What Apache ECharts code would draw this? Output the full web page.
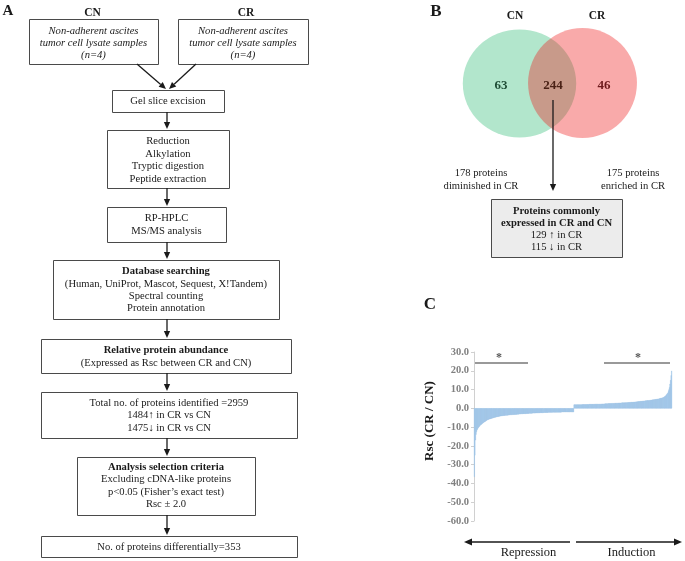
<!DOCTYPE html>
<html>
<head>
<meta charset="utf-8">
<script src="https://cdn.jsdelivr.net/npm/echarts@6/dist/echarts.min.js"></script>
<style>
html,body{margin:0;padding:0;background:#fff;}
#main{width:685px;height:561px;}
</style>
</head>
<body>
<div id="main"></div>
<script>
// ---------------- DATA ----------------
// Panel A: flowchart texts
const flowHeaders = ['CN', 'CR'];
const sampleLines = ['Non-adherent ascites', 'tumor cell lysate samples', '(n=4)'];
const stepGel = ['Gel slice excision'];
const stepDigest = ['Reduction', 'Alkylation', 'Tryptic digestion', 'Peptide extraction'];
const stepLC = ['RP-HPLC', 'MS/MS analysis'];
const stepDB = ['Database searching', '(Human, UniProt, Mascot, Sequest, X!Tandem)', 'Spectral counting', 'Protein annotation'];
const stepRel = ['Relative protein abundance', '(Expressed as Rsc between CR and CN)'];
const stepTotal = ['Total no. of proteins identified =2959', '1484\u2191 in CR vs CN', '1475\u2193 in CR vs CN'];
const stepCrit = ['Analysis selection criteria', 'Excluding cDNA-like proteins', 'p<0.05 (Fisher\u2019s exact test)', 'Rsc \u00b1 2.0'];
const stepFinal = ['No. of proteins differentially=353'];

// Panel B: Venn
const vennSets = ['CN', 'CR'];
const vennCounts = [63, 244, 46]; // CN only, both, CR only
const vennLeftNote = ['178 proteins', 'diminished in CR'];
const vennRightNote = ['175 proteins', 'enriched in CR'];
const vennBox = ['Proteins commonly', 'expressed in CR and CN', '129 \u2191 in CR', '115 \u2193 in CR'];

// Panel C: Rsc values (sorted), 178 repressed + 175 induced
const repressed = [
  -36.5, -25.0, -17.0, -14.0, -12.5, -11.6, -11.0, -10.5, -10.0, -9.7, -9.3, -9.0,
  -8.7, -8.5, -8.2, -8.0, -7.7, -7.5, -7.3, -7.1, -6.9, -6.7, -6.5, -6.3,
  -6.2, -6.0, -5.9, -5.8, -5.7, -5.6, -5.5, -5.4, -5.3, -5.2, -5.1,
  -5.0, -4.9, -4.8, -4.8, -4.7, -4.6, -4.5, -4.5, -4.4, -4.3, -4.3, -4.2, -4.2, -4.1, -4.1, -4.0, -4.0, -3.9,
  -3.9, -3.9, -3.8, -3.8, -3.8, -3.7, -3.7, -3.7, -3.6, -3.6, -3.6, -3.5, -3.5, -3.5, -3.5, -3.4, -3.4, -3.4, -3.4, -3.3, -3.3, -3.3, -3.3, -3.2, -3.2, -3.2,
  -3.2, -3.1, -3.1, -3.1, -3.1, -3.0, -3.0, -3.0, -3.0, -2.9, -2.9, -2.9, -2.9, -2.9, -2.8, -2.8, -2.8, -2.8, -2.8, -2.7, -2.7, -2.7, -2.7, -2.7, -2.7, -2.6, -2.6, -2.6,
  -2.6, -2.6, -2.6, -2.5, -2.5, -2.5, -2.5, -2.5, -2.5, -2.5, -2.4, -2.4, -2.4, -2.4, -2.4, -2.4, -2.4, -2.3, -2.3, -2.3, -2.3, -2.3, -2.3, -2.3, -2.3, -2.2, -2.2, -2.2, -2.2, -2.2, -2.2, -2.2, -2.2, -2.1, -2.1, -2.1, -2.1,
  -2.1, -2.1, -2.1, -2.1, -2.1, -2.1, -2.1, -2.1, -2.1, -2.1, -2.1, -2.1,
  -2.0, -2.0, -2.0, -2.0, -2.0, -2.0, -2.0, -2.0, -2.0, -2.0, -2.0, -2.0, -2.0, -2.0, -2.0, -2.0, -2.0, -2.0, -2.0, -2.0, -2.0, -2.0
];
const induced = [
  2.0, 2.0, 2.0, 2.0, 2.0, 2.0, 2.0, 2.0, 2.0, 2.0, 2.0, 2.0, 2.0, 2.0, 2.0,
  2.1, 2.1, 2.1, 2.1, 2.1, 2.1, 2.1, 2.1, 2.1, 2.1, 2.1, 2.1,
  2.2, 2.2, 2.2, 2.2, 2.2, 2.2, 2.2, 2.2, 2.2, 2.2,
  2.3, 2.3, 2.3, 2.3, 2.3, 2.3, 2.3, 2.3,
  2.3, 2.3, 2.3, 2.3, 2.4, 2.4, 2.4, 2.4, 2.4, 2.4, 2.5, 2.5, 2.5, 2.5, 2.5, 2.5,
  2.6, 2.6, 2.6, 2.6, 2.6, 2.6, 2.7, 2.7, 2.7, 2.7, 2.7, 2.7, 2.8, 2.8, 2.8, 2.8, 2.8, 2.8,
  2.9, 2.9, 2.9, 2.9, 2.9, 2.9, 3.0, 3.0, 3.0, 3.0, 3.0, 3.0, 3.1, 3.1, 3.1, 3.1, 3.1,
  3.2, 3.2, 3.2, 3.2, 3.2, 3.3, 3.3, 3.3, 3.3,
  3.3, 3.4, 3.4, 3.4, 3.5, 3.5, 3.5, 3.6, 3.6, 3.6, 3.7, 3.7, 3.7, 3.8, 3.8, 3.8, 3.9, 3.9, 3.9, 4.0, 4.0, 4.0, 4.1, 4.1, 4.1, 4.2, 4.2, 4.2, 4.2,
  4.3, 4.3, 4.4, 4.4, 4.5, 4.5, 4.6, 4.6, 4.7, 4.7, 4.8, 4.8, 4.9, 4.9, 5.0, 5.0, 5.1, 5.1, 5.2, 5.3, 5.4, 5.5, 5.5, 5.6,
  5.7, 5.8, 6.0, 6.2, 6.4, 6.7, 7.0, 7.4, 7.8,
  8.3, 9.0, 10.0, 11.2, 13.0, 15.0, 17.5, 20.0
];
const yMin = -60, yMax = 30, yStep = 10;
const yAxisTitle = 'Rsc (CR / CN)';
const directionLabels = ['Repression', 'Induction'];
const panelLetters = ['A', 'B', 'C'];

// ---------------- LAYOUT / DRAWING ----------------
const SERIF = '"Liberation Serif", "Times New Roman", serif';
const INK = '#1a1a1a';
const FS = 10.6;
const g = [];

function txt(x, y, s, opt) {
  opt = opt || {};
  g.push({
    type: 'text', x: x, y: y, rotation: opt.rotation || 0, z: 10,
    style: {
      text: s, fill: opt.color || INK,
      fontFamily: SERIF, fontSize: opt.size || FS,
      fontWeight: opt.bold ? 'bold' : 'normal',
      fontStyle: opt.italic ? 'italic' : 'normal',
      align: opt.align || 'center', verticalAlign: 'middle',
      textAlign: opt.align || 'center', textVerticalAlign: 'middle'
    }
  });
}
function box(x1, y1, x2, y2, fill) {
  g.push({
    type: 'rect', z: 5,
    shape: { x: x1 + 0.5, y: y1 + 0.5, width: x2 - x1, height: y2 - y1 },
    style: { fill: fill || '#fff', stroke: '#4a4a4a', lineWidth: 1 }
  });
}
function arrow(x1, y1, x2, y2, color, head) {
  head = head || 7;
  const dx = x2 - x1, dy = y2 - y1, L = Math.sqrt(dx * dx + dy * dy);
  const ux = dx / L, uy = dy / L;
  const bx = x2 - ux * head, by = y2 - uy * head;
  const w = head * 0.45;
  g.push({ type: 'line', z: 6, shape: { x1: x1, y1: y1, x2: bx, y2: by },
    style: { stroke: color || INK, lineWidth: 1.3 } });
  g.push({ type: 'polygon', z: 6,
    shape: { points: [[x2, y2], [bx - uy * w, by + ux * w], [bx + uy * w, by - ux * w]] },
    style: { fill: color || INK } });
}
function lines(cx, ys, arr, boldFirst, italic) {
  arr.forEach(function (s, i) {
    txt(cx, ys[i], s, { bold: boldFirst && i === 0, italic: italic });
  });
}

// Panel A
txt(8, 11, panelLetters[0], { size: 15, bold: true });
txt(92.5, 13, flowHeaders[0], { size: 11.5, bold: true });
txt(246, 13, flowHeaders[1], { size: 11.5, bold: true });
box(29, 19, 158, 64); lines(93.5, [31, 43, 55], sampleLines, false, true);
box(178, 19, 308, 64); lines(243, [31, 43, 55], sampleLines, false, true);
arrow(137, 64, 166, 89);
arrow(196, 64, 169, 89);
box(112, 90, 224, 112); lines(168, [101], stepGel);
arrow(167, 112, 167, 129);
box(107, 130, 229, 188); lines(168, [141, 154, 166, 179], stepDigest);
arrow(167, 188, 167, 206);
box(107, 207, 226, 242); lines(166.5, [218, 231.5], stepLC);
arrow(167, 242, 167, 259);
box(53, 260, 279, 319); lines(166, [271, 284, 296.5, 308.5], stepDB, true);
arrow(167, 319, 167, 338);
box(41, 339, 291, 373); lines(166, [350.5, 363], stepRel, true);
arrow(167, 373, 167, 391);
box(41, 392, 297, 438); lines(169, [403, 415.5, 428], stepTotal);
arrow(167, 438, 167, 456);
box(77, 457, 255, 515); lines(166, [467, 479.5, 492, 504], stepCrit, true);
arrow(167, 515, 167, 535);
box(41, 536, 297, 557); lines(169, [547], stepFinal);

// Panel B
txt(436, 12, panelLetters[1], { size: 17, bold: true });
txt(515, 16, vennSets[0], { size: 11.5, bold: true });
txt(597, 16, vennSets[1], { size: 11.5, bold: true });
g.push({ type: 'circle', z: 3, shape: { cx: 519.5, cy: 83.5, r: 54 }, scaleX: 1.05, originX: 519.5, originY: 83.5,
  style: { fill: 'rgb(178,230,204)' } });
g.push({ type: 'circle', z: 4, shape: { cx: 582.5, cy: 83, r: 55 }, scaleX: 0.99, originX: 582.5, originY: 83,
  style: { fill: 'rgb(240,24,24)', opacity: 0.37 } });
txt(501, 86, String(vennCounts[0]), { size: 13, bold: true, color: '#1f4d36' });
txt(553, 86, String(vennCounts[1]), { size: 13, bold: true, color: '#4a2216' });
txt(604, 86, String(vennCounts[2]), { size: 13, bold: true, color: '#6e1a1c' });
arrow(553, 100, 553, 191, INK, 7);
lines(481, [173, 186], vennLeftNote.map(function (s) { return s; }));
lines(633, [173, 186], vennRightNote);
box(491, 199, 622, 257, '#ececec');
vennBox.forEach(function (s, i) {
  txt(556.5, [211, 223, 235, 247][i], s, { bold: i < 2, size: 10.6 });
});

// Panel C decorations
txt(430, 305, panelLetters[2], { size: 17, bold: true });
txt(430, 421, yAxisTitle, { size: 13, bold: true, rotation: Math.PI / 2 });
g.push({ type: 'line', z: 6, shape: { x1: 475, y1: 363, x2: 528, y2: 363 }, style: { stroke: '#777', lineWidth: 1.5 } });
g.push({ type: 'line', z: 6, shape: { x1: 604, y1: 363, x2: 670, y2: 363 }, style: { stroke: '#777', lineWidth: 1.5 } });
txt(499, 358, '*', { size: 12, bold: true, color: '#555' });
txt(638, 358, '*', { size: 12, bold: true, color: '#555' });
arrow(570, 542, 464, 542, INK, 8);
arrow(576, 542, 682, 542, INK, 8);
txt(528.5, 553, directionLabels[0], { size: 12.5 });
txt(631.5, 553, directionLabels[1], { size: 12.5 });

// ---------------- CHART ----------------
const values = repressed.concat(induced);
const cats = values.map(function (_, i) { return String(i + 1); });

const chart = echarts.init(document.getElementById('main'), null, { renderer: 'canvas' });
chart.setOption({
  animation: false,
  backgroundColor: '#fff',
  grid: { left: 474, right: 13, top: 352, bottom: 40, containLabel: false },
  xAxis: {
    type: 'category', data: cats, show: false, boundaryGap: true
  },
  yAxis: {
    type: 'value', min: yMin, max: yMax, interval: yStep,
    axisLine: { show: true, lineStyle: { color: '#d0d0d0', width: 1 } },
    axisTick: { show: true, length: 3, lineStyle: { color: '#d0d0d0' } },
    splitLine: { show: false },
    axisLabel: {
      margin: 5, color: '#808080', fontFamily: SERIF, fontWeight: 'bold', fontSize: 10.5,
      formatter: function (v) { return v.toFixed(1); }
    }
  },
  series: [{
    type: 'bar', data: values, barCategoryGap: '0%', barGap: '0%',
    itemStyle: { color: '#9fc5e8', borderColor: '#9fc5e8', borderWidth: 0.3 },
    silent: true
  }],
  graphic: { elements: g }
});
</script>
</body>
</html>
